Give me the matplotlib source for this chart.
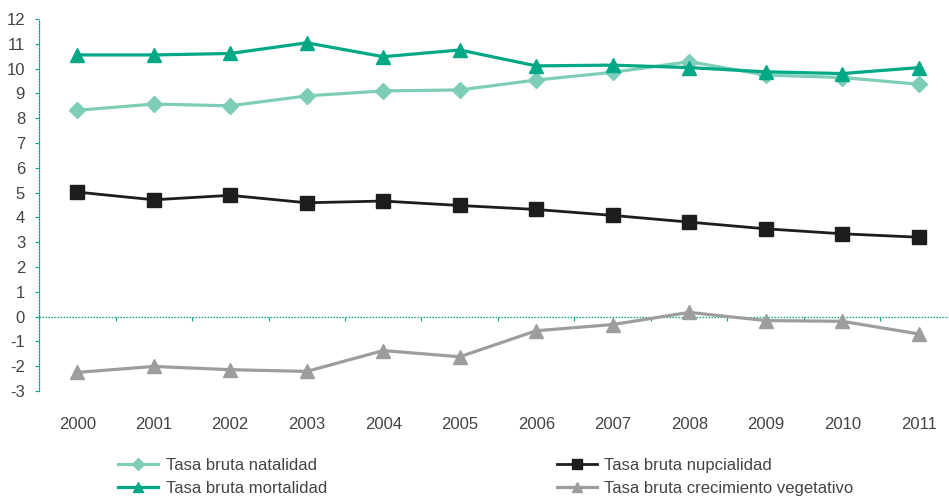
import matplotlib
matplotlib.use("Agg")
import matplotlib.pyplot as plt

plt.rcParams['font.family'] = ['Liberation Sans', 'DejaVu Sans']

years = ['2000', '2001', '2002', '2003', '2004', '2005', '2006', '2007', '2008', '2009', '2010', '2011']
natalidad = [8.32, 8.57, 8.50, 8.90, 9.10, 9.14, 9.54, 9.85, 10.28, 9.74, 9.64, 9.37]
mortalidad = [10.55, 10.55, 10.61, 11.04, 10.48, 10.75, 10.11, 10.14, 10.04, 9.87, 9.80, 10.04]
nupcialidad = [5.02, 4.71, 4.89, 4.59, 4.66, 4.48, 4.32, 4.08, 3.81, 3.54, 3.34, 3.20]
vegetativo = [-2.25, -2.01, -2.14, -2.21, -1.37, -1.62, -0.57, -0.32, 0.17, -0.16, -0.19, -0.70]
yticks = list(range(-3, 13))

labels = ['Tasa bruta natalidad', 'Tasa bruta mortalidad',
          'Tasa bruta nupcialidad', 'Tasa bruta crecimiento vegetativo']

c_nat = '#7dcdb8'
c_mor = '#00a886'
c_nup = '#1d1d1b'
c_veg = '#9d9d9c'
c_txt = '#444443'
c_axis = '#00a886'

W, H = 949, 499
fig = plt.figure(figsize=(W / 100, H / 100), dpi=100)
ax = fig.add_axes([39 / W, 108 / H, (957 - 39) / W, 372 / H])

x = list(range(len(years)))
ax.axhline(0, color=c_axis, lw=0.9, linestyle=(0, (1.2, 1.2)), zorder=1)
h1, = ax.plot(x, natalidad, color=c_nat, lw=2.3, marker='D', ms=8.2, label=labels[0], zorder=3)
h2, = ax.plot(x, mortalidad, color=c_mor, lw=2.3, marker='^', ms=9.6, label=labels[1], zorder=4)
h3, = ax.plot(x, nupcialidad, color=c_nup, lw=2.0, marker='s', ms=10.3, label=labels[2], zorder=3)
h4, = ax.plot(x, vegetativo, color=c_veg, lw=2.3, marker='^', ms=9.6, label=labels[3], zorder=3)

ax.set_xlim(-0.5, len(years) - 0.5)
ax.set_ylim(-3, 12)
ax.set_yticks(yticks)
ax.set_yticklabels([str(v) for v in yticks])

for s in ['top', 'right', 'bottom']:
    ax.spines[s].set_visible(False)
ax.spines['left'].set_color(c_axis)
ax.spines['left'].set_linestyle((0, (1.2, 1.2)))
ax.spines['left'].set_linewidth(0.9)

ax.tick_params(axis='y', direction='out', length=3, width=0.8, color=c_axis,
               labelsize=12, labelcolor=c_txt, pad=7)
ax.set_xticks(x)
ax.set_xticklabels(years)
ax.tick_params(axis='x', length=0, labelsize=12, labelcolor=c_txt, pad=19)

# category boundary ticks on the zero line
sec = ax.secondary_xaxis(0.2)
sec.spines['bottom'].set_visible(False)
sec.set_xticks([i + 0.5 for i in range(len(years) - 1)])
sec.set_xticklabels([])
sec.tick_params(axis='x', direction='out', length=3, width=0.8, color=c_axis)

common = dict(frameon=False, fontsize=12, handlelength=2.4, handletextpad=0.45,
              labelspacing=0.5, borderpad=0, borderaxespad=0, labelcolor=c_txt,
              markerscale=0.75)
fig.legend(handles=[h1, h2], loc='center left', bbox_to_anchor=(118 / W, 1 - 477 / H), **common)
fig.legend(handles=[h3, h4], loc='center left', bbox_to_anchor=(557 / W, 1 - 477 / H), **common)

fig.savefig('out.png', dpi=100)
